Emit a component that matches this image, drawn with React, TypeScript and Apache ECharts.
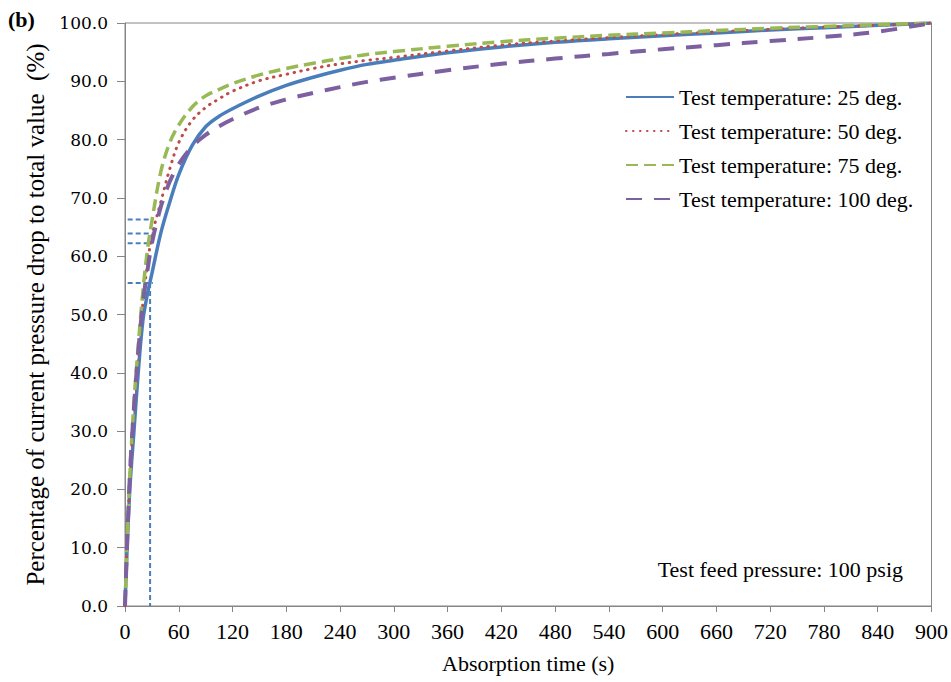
import React, { useEffect, useRef } from "react";
import * as echarts from "echarts";

const times = [0, 5, 10, 15, 20, 25, 30, 40, 50, 60, 75, 90, 105, 120, 150, 180, 210, 240, 270, 300, 360, 420, 480, 540, 600, 660, 720, 780, 840, 900];
const temp25 = [0, 19, 30, 40.5, 49, 53.5, 57, 64, 69.3, 74, 79, 82.2, 84.0, 85.3, 87.5, 89.3, 90.7, 91.9, 92.9, 93.6, 94.9, 95.9, 96.7, 97.3, 97.8, 98.3, 98.8, 99.2, 99.6, 100];
const temp50 = [0, 21, 33, 43, 52, 58.5, 63.5, 69.3, 75, 79.5, 83.3, 85.5, 87.0, 88.3, 90.1, 91.2, 92.2, 93.0, 93.6, 94.1, 95.2, 96.2, 96.9, 97.5, 98.0, 98.5, 98.9, 99.3, 99.6, 100];
const temp75 = [0, 21, 35, 45, 54, 61, 66, 74.5, 79.5, 82.5, 85.6, 87.5, 88.6, 89.6, 91.1, 92.2, 93.1, 93.9, 94.6, 95.1, 96.0, 96.8, 97.4, 97.9, 98.3, 98.7, 99.1, 99.4, 99.7, 100];
const temp100 = [0, 21, 34, 44, 52, 57.5, 62.2, 68.5, 72.8, 75.8, 78.8, 80.8, 82.3, 83.5, 85.5, 86.9, 88.0, 89.0, 89.9, 90.6, 91.9, 93.0, 93.9, 94.7, 95.5, 96.2, 96.9, 97.6, 98.5, 100];

const seriesNames = [
  "Test temperature: 25 deg.",
  "Test temperature: 50 deg.",
  "Test temperature: 75 deg.",
  "Test temperature: 100 deg.",
];

// reference (guide) lines
const refLevels = [66.3, 63.9, 62.2, 55.4];
const refStart = 3;
const refEnd = 31;
const refTime = 28;

const xTicks = { min: 0, max: 900, interval: 60 };
const yTicks = { min: 0, max: 100, interval: 10 };

const SERIF = "Liberation Serif";

function pairs(vals: number[]) {
  return times.map((t, i) => [t, vals[i]]);
}

export default function App() {
  const ref = useRef<HTMLDivElement>(null);

  useEffect(() => {
    if (!ref.current) return;
    const chart = echarts.init(ref.current, undefined, { renderer: "svg" });

    const refColor = "#4A7EBB";
    const refSeries: any[] = refLevels.map((lv, i) => ({
      name: "ref" + i,
      type: "line",
      symbol: "none",
      silent: true,
      data: [[refStart, lv], [refEnd, lv]],
      lineStyle: { color: refColor, width: 2, type: [5, 3] },
      z: 1,
    }));
    refSeries.push({
      name: "refV",
      type: "line",
      symbol: "none",
      silent: true,
      data: [[refTime, refLevels[refLevels.length - 1]], [refTime, 0]],
      lineStyle: { color: refColor, width: 2, type: [5, 3] },
      z: 1,
    });

    const mk = (name: string, vals: number[], color: string, width: number, type: any, cap = "butt") => ({
      name,
      type: "line",
      symbol: "none",
      smooth: 0.35,
      data: pairs(vals),
      itemStyle: { color },
      lineStyle: { color, width, type, cap },
      z: 3,
    });

    chart.setOption({
      animation: false,
      backgroundColor: "#ffffff",
      textStyle: { fontFamily: SERIF },
      grid: {
        left: 125,
        right: 18,
        top: 23,
        bottom: 76,
        show: true,
        borderColor: "#868686",
        borderWidth: 1,
        backgroundColor: "transparent",
      },
      legend: {
        data: seriesNames,
        orient: "vertical",
        left: 620,
        top: 81,
        itemWidth: 48,
        itemHeight: 14,
        itemGap: 12,
        itemStyle: { opacity: 0 },
        textStyle: { fontFamily: SERIF, fontSize: 22, color: "#000", lineHeight: 22 },
      },
      xAxis: {
        type: "value",
        min: xTicks.min,
        max: xTicks.max,
        interval: xTicks.interval,
        name: "Absorption time (s)",
        nameLocation: "middle",
        nameGap: 46,
        nameTextStyle: { fontFamily: SERIF, fontSize: 22, color: "#000", lineHeight: 22 },
        axisLine: { show: true, lineStyle: { color: "#868686", width: 1 } },
        axisTick: { show: true, length: 6, lineStyle: { color: "#868686" } },
        axisLabel: { fontFamily: SERIF, fontSize: 22, color: "#000", margin: 14 },
        splitLine: { show: false },
      },
      yAxis: {
        type: "value",
        min: yTicks.min,
        max: yTicks.max,
        interval: yTicks.interval,
        name: "Percentage of current pressure drop to total value  (%)",
        nameLocation: "middle",
        nameRotate: 90,
        nameGap: 75,
        nameTextStyle: { fontFamily: SERIF, fontSize: 25, color: "#000" },
        axisLine: { show: true, lineStyle: { color: "#868686", width: 1 } },
        axisTick: { show: true, length: 8, lineStyle: { color: "#868686" } },
        axisLabel: {
          fontFamily: "DejaVu Serif",
          fontSize: 17,
          color: "#000",
          margin: 17,
          formatter: (v: number) => v.toFixed(1),
        },
        splitLine: { show: false },
      },
      graphic: [
        {
          type: "text",
          left: 8,
          top: 8,
          style: { text: "(b)", fontFamily: SERIF, fontSize: 22, fontWeight: "bold", fill: "#000" },
        },
        {
          type: "text",
          x: 903,
          y: 569,
          style: {
            text: "Test feed pressure: 100 psig",
            fontFamily: SERIF,
            fontSize: 22,
            fill: "#000",
            textAlign: "right",
            textVerticalAlign: "middle",
          },
        },
      ],
      series: [
        ...refSeries,
        mk(seriesNames[0], temp25, "#4A7EBB", 3.5, "solid"),
        mk(seriesNames[1], temp50, "#BE4B48", 3, [0.5, 6.5], "round"),
        mk(seriesNames[2], temp75, "#98B954", 3.5, [12, 6]),
        mk(seriesNames[3], temp100, "#7D60A0", 4, [16, 12]),
      ],
    });

    return () => chart.dispose();
  }, []);

  return (
    <div
      ref={ref}
      style={{ position: "absolute", left: 0, top: 0, width: 951, height: 682, background: "#fff" }}
    />
  );
}
